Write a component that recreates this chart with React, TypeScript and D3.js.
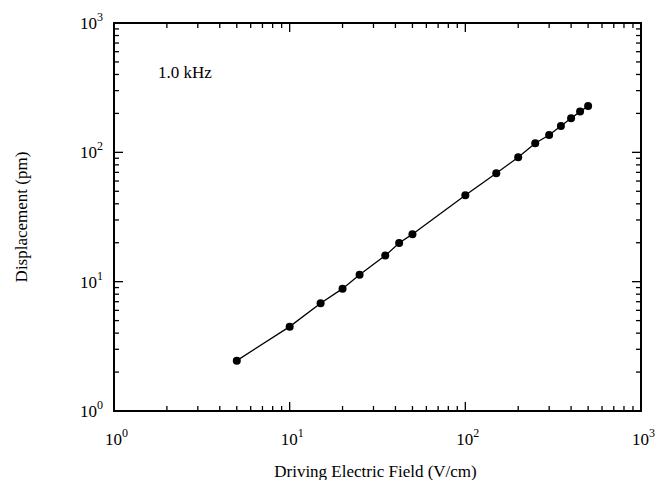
import React from "react";
import * as d3 from "d3";

const fieldVcm = [5, 10, 15, 20, 25, 35, 42, 50, 100, 150, 200, 250, 300, 350, 400, 450, 500];
const displacementPm = [2.45, 4.49, 6.8, 8.83, 11.3, 15.9, 19.9, 23.3, 46.6, 68.9, 91.6, 117.6, 136.3, 160, 183.6, 206.5, 228.5];
const xDecades = [0, 1, 2, 3];
const yDecades = [0, 1, 2, 3];
const annotation = "1.0 kHz";
const xTitle = "Driving Electric Field (V/cm)";
const yTitle = "Displacement (pm)";

const W = 655;
const H = 480;
const left = 114, right = 641, top = 23, bottom = 411;
const FONT = "Liberation Serif, DejaVu Serif, serif";

export default function App() {
  const x = d3.scaleLog().domain([1, 1000]).range([left, right]);
  const y = d3.scaleLog().domain([1, 1000]).range([bottom, top]);

  const minorVals: number[] = [];
  for (let d = 0; d < 3; d++) {
    for (let m = 2; m <= 9; m++) minorVals.push(m * Math.pow(10, d));
  }
  const majorVals = xDecades.map((d) => Math.pow(10, d));

  const line = d3
    .line<number>()
    .x((_, i) => x(fieldVcm[i]))
    .y((_, i) => y(displacementPm[i]));

  const minorLen = 5;
  const majorLen = 9;
  const textStyle = { fontFamily: FONT, fill: "#000" } as React.CSSProperties;

  return (
    <svg width={W} height={H} style={{ position: "absolute", left: 0, top: 0, background: "#fff" }}>
      <rect x={0} y={0} width={W} height={H} fill="#fff" />
      <g stroke="#000" strokeWidth={1.3}>
        {minorVals.map((v) => (
          <g key={"mn" + v}>
            <line x1={x(v)} x2={x(v)} y1={bottom} y2={bottom - minorLen} />
            <line x1={x(v)} x2={x(v)} y1={top} y2={top + minorLen} />
            <line x1={left} x2={left + minorLen} y1={y(v)} y2={y(v)} />
            <line x1={right} x2={right - minorLen} y1={y(v)} y2={y(v)} />
          </g>
        ))}
        {majorVals.map((v) => (
          <g key={"mj" + v}>
            <line x1={x(v)} x2={x(v)} y1={bottom} y2={bottom - majorLen} />
            <line x1={x(v)} x2={x(v)} y1={top} y2={top + majorLen} />
            <line x1={left} x2={left + majorLen} y1={y(v)} y2={y(v)} />
            <line x1={right} x2={right - majorLen} y1={y(v)} y2={y(v)} />
          </g>
        ))}
      </g>
      <rect x={left} y={top} width={right - left} height={bottom - top} fill="none" stroke="#000" strokeWidth={2} />

      <path d={line(fieldVcm) || ""} fill="none" stroke="#000" strokeWidth={1.3} />
      {fieldVcm.map((v, i) => (
        <circle key={i} cx={x(v)} cy={y(displacementPm[i])} r={4} fill="#000" />
      ))}

      <g style={{ ...textStyle, fontSize: 17 }}>
        {xDecades.map((d) => (
          <text key={"xl" + d} x={x(Math.pow(10, d)) - 9} y={445}>
            10
            <tspan style={{ fontSize: 12 }} dy={-8}>{d}</tspan>
          </text>
        ))}
        {yDecades.map((d) => (
          <text key={"yl" + d} x={103} y={y(Math.pow(10, d)) + 6} textAnchor="end">
            10
            <tspan style={{ fontSize: 12 }} dy={-8}>{d}</tspan>
          </text>
        ))}
      </g>

      <text x={158} y={78} style={{ ...textStyle, fontSize: 17 }}>{annotation}</text>
      <text x={(left + right) / 2 - 2} y={477} textAnchor="middle" style={{ ...textStyle, fontSize: 17 }}>
        {xTitle}
      </text>
      <text
        transform={`translate(27,${(top + bottom) / 2}) rotate(-90)`}
        textAnchor="middle"
        style={{ ...textStyle, fontSize: 17 }}
      >
        {yTitle}
      </text>
    </svg>
  );
}
